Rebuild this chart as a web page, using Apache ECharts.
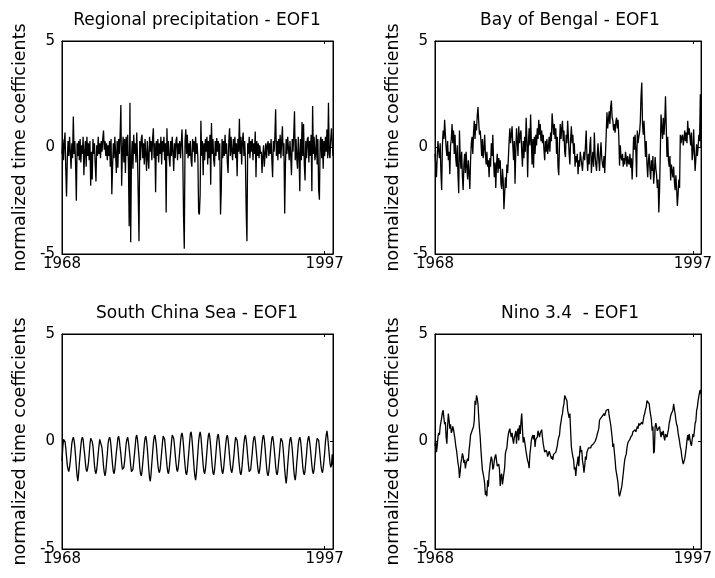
<!DOCTYPE html>
<html><head><meta charset="utf-8">
<script src="https://cdn.jsdelivr.net/npm/echarts@6/dist/echarts.min.js"></script>
<style>html,body{margin:0;padding:0;background:#fff}#c{width:715px;height:578px}</style>
</head><body><div id="c"></div>
<script>
// ---- data ----
const startYear = 1968;
const nYears = 30;
const tickYears = [1968, 1997];
const yTicks = [-5, 0, 5];
const yAxisTitle = 'normalized time coefficients';
const titles = ['Regional precipitation - EOF1', 'Bay of Bengal - EOF1', 'South China Sea - EOF1', 'Nino 3.4  - EOF1'];

const precip = [
-0.3,0.4,-0.6,0.2,0.7,-1.0,-2.3,-0.6,0.3,-0.4,0.5,-0.2,
-1.0,0.2,-0.5,1.45,-0.3,0.3,-0.8,-2.5,0.2,-0.4,0.3,-0.6,
0.4,-0.7,0.1,-0.3,0.5,-1.3,-0.2,0.3,-0.9,0.5,-0.4,0.2,
-0.6,0.3,-1.8,-0.2,-1.5,0.4,-0.3,0.2,-0.8,-1.6,0.1,-0.4,
0.5,-0.3,0.2,-0.5,0.3,-0.2,0.4,0.8,-0.1,0.3,-0.4,0.2,
-0.6,0.1,-0.4,0.3,-0.9,0.4,-2.2,-0.9,0.2,-0.5,0.5,-0.3,
-1.2,0.3,-0.95,0.4,-0.3,0.6,2.0,-1.8,-0.2,0.5,-0.7,0.4,
-1.2,0.5,-0.4,0.6,-0.8,-3.7,2.1,-4.45,-0.5,0.3,-1.0,0.6,
-0.3,0.2,-0.7,0.7,-0.4,-2.3,-4.4,0.3,-0.6,0.4,0.6,-0.5,
0.2,-0.8,0.4,-0.3,-1.1,0.3,-0.5,-1.0,0.5,-0.2,0.3,-0.6,
0.4,0.9,-0.5,0.2,-2.1,0.3,-0.4,0.4,-0.7,0.2,-0.3,0.5,
-0.8,0.3,-0.2,0.5,-0.6,0.2,-3.05,0.9,-0.4,0.3,-0.5,-0.9,
0.3,-0.4,0.5,-0.2,-1.1,0.2,-0.5,0.3,0.5,-0.6,0.2,-0.3,
0.3,-0.5,0.2,0.85,-0.4,-3.2,-4.75,0.3,0.85,-0.3,0.6,-0.5,
0.2,-0.4,0.3,-0.6,-0.9,0.4,-0.2,0.3,-0.7,0.5,-0.3,0.2,
-0.5,-3.05,-3.15,-2.2,1.25,-0.4,0.3,-1.3,0.2,-0.6,0.4,-0.2,
0.5,-0.8,0.3,-0.5,0.6,-1.75,1.15,-0.3,0.4,-0.6,-0.9,0.3,
-0.4,0.45,-0.2,0.3,-0.6,0.2,-3.15,-2.0,0.4,-0.5,0.3,-0.4,
0.6,-0.3,0.2,-0.7,-1.2,0.3,0.9,-0.4,0.5,-0.2,-0.6,0.4,
-0.3,0.5,-0.5,0.2,-1.35,0.4,-0.2,1.35,-0.3,0.5,-0.8,0.3,
0.7,-0.4,0.3,-0.6,-3.0,-4.4,0.2,-0.3,0.5,-0.5,0.3,-0.2,
0.4,-0.6,0.2,-0.3,0.75,-1.4,0.3,-0.4,0.2,-0.5,0.1,-0.3,
-0.2,-1.2,-0.4,0.1,-0.9,-0.3,0.2,-0.5,0.1,0.3,-0.4,0.2,
-0.3,0.4,-0.6,-1.4,0.3,-0.2,0.5,1.8,-0.4,0.3,-0.6,0.4,
-0.3,0.6,-0.5,0.3,1.0,-0.4,0.2,-3.1,-0.8,0.4,-0.3,0.5,
0.5,-0.6,0.3,-0.4,-1.3,0.4,-0.2,0.6,1.7,-0.6,0.4,-0.5,
-1.0,0.5,-0.3,-2.05,0.4,-0.6,1.2,-0.4,1.1,-0.8,-1.55,0.3,
-0.5,0.4,0.5,-0.7,0.3,-0.4,0.6,-2.05,1.95,-0.3,0.5,-0.6,
-0.3,0.6,-0.8,0.4,-2.0,-2.45,0.3,0.5,-0.5,0.4,-1.0,0.3,
-0.4,0.5,-0.2,0.85,-0.5,2.1,-0.3,-0.5,0.4,0.9,0.2,-0.4
];

const bengal = [
-0.3,-0.8,-1.4,-0.4,0.3,-0.2,-0.5,0.2,-1.2,-2.0,0.1,0.8,
0.4,1.3,0.6,0.0,-0.4,0.3,-0.6,-0.2,-1.25,0.1,0.4,1.1,
0.2,0.8,-0.3,0.6,-0.5,-0.9,0.1,-1.3,-2.15,0.8,-0.4,-1.0,
-0.2,-1.4,-2.0,-0.8,-0.3,-1.2,-0.2,-0.9,-1.5,-0.6,-1.2,-1.95,
-0.6,0.2,0.5,-0.3,0.7,1.25,0.4,1.1,0.8,1.5,1.9,1.2,
0.6,0.8,0.3,-0.4,0.4,-0.5,-0.1,0.6,-0.3,-0.8,-0.2,-0.9,
-0.6,-1.4,-0.5,-0.9,0.2,-0.4,0.6,-0.6,-1.4,-0.7,-1.9,-0.8,
-0.3,-1.2,-0.5,-1.0,-0.6,-1.7,-1.95,-1.0,-1.5,-2.9,-2.2,-1.4,
-1.9,-0.8,-1.2,-0.5,0.3,0.9,0.2,0.6,1.0,0.1,-0.6,0.3,
-1.7,-0.2,0.9,0.3,-0.4,1.0,0.2,0.6,0.8,-0.2,-0.9,0.3,
-0.5,0.5,-0.2,1.4,0.4,-1.4,0.2,0.9,0.1,1.55,0.3,-0.8,
0.4,-0.95,0.5,-0.3,0.6,0.1,0.9,0.4,1.3,0.6,1.1,0.3,
0.8,0.2,0.6,-0.1,-0.6,0.3,-0.2,0.4,-0.3,0.0,0.5,-0.2,
0.7,0.3,1.6,1.1,0.6,1.1,0.4,0.9,-0.3,0.5,-0.95,-1.3,
0.2,1.1,0.4,0.9,1.25,0.3,0.8,-0.2,-0.45,0.6,0.2,1.25,
0.5,-0.3,-0.8,0.4,1.0,0.2,0.6,-0.3,0.2,-0.9,-0.4,-0.7,
-0.3,-1.25,-0.6,-0.9,-0.2,-0.15,-0.8,-1.1,-0.5,-0.2,-0.6,0.1,
0.8,-0.4,-1.1,-0.3,-0.8,0.1,0.5,-1.2,-0.6,-0.2,-0.9,0.7,
-0.4,-0.8,-1.1,-0.3,0.2,-0.6,-1.1,-0.3,0.25,-0.5,-0.8,-0.95,
-0.4,-1.2,-1.15,0.6,1.65,0.9,1.3,1.7,1.1,1.9,2.2,1.4,
1.25,0.8,1.1,0.7,1.2,1.4,0.9,1.3,0.5,-0.85,0.1,-0.45,
-0.6,-0.3,-0.9,-0.5,-0.8,-0.2,-0.45,-0.9,-0.4,-0.7,-0.8,-0.3,
-0.95,-0.5,-1.5,-0.6,0.5,-0.1,0.6,-0.2,-1.4,0.8,0.2,0.5,
0.7,1.2,2.4,3.05,1.1,0.6,1.25,0.4,-0.45,0.3,-0.8,-1.4,
-0.6,-0.3,-1.0,-1.5,-0.6,-1.1,-0.4,-1.7,-1.2,-0.45,-1.0,-1.3,
-1.9,-1.5,-3.05,-2.0,-0.2,1.55,0.9,0.4,1.4,0.6,1.2,2.4,
1.0,-0.45,0.5,-0.6,-0.9,-0.4,-1.55,-0.8,-1.1,-1.4,-0.9,-1.6,
-2.0,-1.3,-1.9,-2.75,-2.2,-1.5,-1.9,0.6,0.2,0.5,0.6,0.1,
0.4,0.8,0.3,0.7,0.2,1.25,0.6,0.9,0.5,0.1,0.7,-0.6,
-0.2,0.85,-0.3,-1.1,-0.5,0.15,-0.4,0.0,0.6,0.3,2.5,0.0
];

const scs = [
-0.9,-0.3,0.1,0.15,0.0,-0.3,-0.7,-1.1,-1.3,-1.4,-1.2,-0.9,
-0.5,-0.1,0.1,0.2,0.05,-0.25,-0.7,-1.2,-1.6,-1.85,-1.5,-1.0,
-0.6,-0.2,0.1,0.2,0.1,-0.3,-0.6,-1.0,-1.3,-1.4,-1.25,-1.0,
-0.6,-0.15,0.15,0.2,0.0,-0.2,-0.65,-1.1,-1.4,-1.5,-1.3,-0.95,
-0.55,-0.2,0.1,0.15,0.05,-0.3,-0.7,-1.15,-1.45,-1.6,-1.4,-1.0,
-0.6,-0.1,0.1,0.2,0.1,-0.25,-0.7,-1.1,-1.4,-1.5,-1.3,-0.9,
-0.5,-0.2,0.15,0.25,0.05,-0.3,-0.6,-1.0,-1.3,-1.35,-1.2,-0.9,
-0.5,-0.1,0.1,0.2,0.0,-0.35,-0.7,-1.1,-1.4,-1.45,-1.3,-0.95,
-0.6,-0.2,0.2,0.3,0.1,-0.3,-0.7,-1.2,-1.5,-1.6,-1.4,-1.0,
-0.6,-0.15,0.15,0.25,0.05,-0.3,-0.8,-1.3,-1.7,-1.85,-1.5,-1.0,
-0.55,-0.1,0.2,0.3,0.1,-0.2,-0.65,-1.1,-1.35,-1.45,-1.3,-0.9,
-0.5,-0.1,0.25,0.3,0.1,-0.3,-0.7,-1.1,-1.4,-1.5,-1.3,-0.9,
-0.5,-0.05,0.3,0.35,0.15,-0.2,-0.6,-1.0,-1.3,-1.4,-1.2,-0.85,
-0.45,0.0,0.3,0.4,0.2,-0.2,-0.7,-1.1,-1.45,-1.55,-1.35,-0.9,
-0.5,-0.05,0.35,0.45,0.2,-0.25,-0.75,-1.25,-1.6,-1.8,-1.5,-1.0,
-0.5,0.0,0.3,0.45,0.25,-0.2,-0.65,-1.1,-1.4,-1.5,-1.3,-0.9,
-0.45,0.0,0.3,0.4,0.15,-0.25,-0.7,-1.15,-1.45,-1.55,-1.35,-0.95,
-0.5,-0.05,0.25,0.35,0.1,-0.3,-0.7,-1.1,-1.4,-1.5,-1.3,-0.9,
-0.5,-0.1,0.2,0.3,0.1,-0.25,-0.7,-1.1,-1.35,-1.45,-1.25,-0.9,
-0.55,-0.1,0.2,0.25,0.05,-0.3,-0.75,-1.15,-1.45,-1.55,-1.35,-0.95,
-0.5,-0.1,0.2,0.3,0.1,-0.25,-0.7,-1.1,-1.4,-1.45,-1.3,-0.9,
-0.55,-0.1,0.15,0.25,0.05,-0.3,-0.7,-1.1,-1.4,-1.5,-1.3,-0.9,
-0.5,-0.1,0.2,0.3,0.1,-0.3,-0.75,-1.2,-1.5,-1.6,-1.4,-1.0,
-0.55,-0.15,0.15,0.25,0.05,-0.3,-0.7,-1.15,-1.45,-1.55,-1.35,-0.95,
-0.6,-0.15,0.15,0.2,0.0,-0.35,-0.8,-1.3,-1.7,-1.95,-1.6,-1.1,
-0.65,-0.2,0.1,0.2,0.0,-0.35,-0.8,-1.3,-1.65,-1.8,-1.5,-1.0,
-0.6,-0.15,0.1,0.2,0.05,-0.3,-0.75,-1.2,-1.45,-1.55,-1.35,-0.95,
-0.55,-0.1,0.15,0.25,0.0,-0.3,-0.7,-1.1,-1.4,-1.5,-1.3,-0.9,
-0.55,-0.1,0.15,0.2,0.05,-0.3,-0.7,-1.1,-1.35,-1.45,-1.25,-0.9,
-0.5,0.0,0.3,0.5,0.2,-0.2,-0.6,-1.0,-1.2,-1.1,-0.6,-1.1
];

const nino = [
-0.2,0.05,-0.5,-0.2,0.2,0.4,0.3,0.7,0.9,1.1,1.35,1.45,
1.1,0.8,0.9,0.2,-0.1,0.7,1.3,1.0,0.6,0.8,0.4,0.5,
0.7,0.55,0.5,0.1,-0.2,-0.4,-0.7,-1.0,-1.2,-1.7,-1.4,-1.0,
-0.8,-0.55,-0.7,-1.0,-0.85,-1.25,-1.0,-0.9,-0.8,-0.9,-0.4,-0.1,
0.3,0.35,0.5,0.45,0.7,1.0,1.9,1.7,2.15,2.0,1.75,1.14,
0.6,0.2,-0.4,-0.9,-1.33,-1.5,-1.7,-1.95,-2.49,-2.3,-2.55,-1.8,
-2.1,-1.5,-1.2,-0.9,-0.7,-0.85,-1.3,-1.2,-0.9,-0.7,-0.6,-0.55,
-1.15,-1.2,-1.05,-1.3,-2.07,-1.6,-1.5,-2.0,-2.07,-2.0,-1.2,-0.55,
-0.4,-0.3,0.1,0.35,0.5,0.6,0.35,0.2,0.4,0.1,-0.1,0.2,
0.3,0.5,-0.1,0.4,0.6,0.05,0.75,0.35,0.9,1.3,0.6,-0.05,
0.2,0.0,-0.25,-0.5,-0.7,-0.9,-1.0,-1.24,-0.6,-0.3,0.05,0.2,
0.3,0.1,0.3,-0.25,0.1,0.05,0.2,0.5,0.35,0.2,0.4,0.35,
0.55,0.2,-0.1,-0.3,-0.5,-0.55,-0.4,-0.5,-0.7,-0.6,-0.45,-0.55,
-0.55,-0.8,-0.7,-0.85,-0.6,-0.55,-0.6,-0.5,-0.55,-0.2,0.05,0.2,
0.3,0.7,0.9,1.15,1.3,1.6,1.75,2.14,2.15,2.2,1.9,1.45,
1.45,1.1,1.3,0.5,-0.25,-0.5,-0.7,-0.85,-1.3,-1.2,-1.6,-1.15,
-1.0,-0.7,-1.15,-0.6,-0.2,-0.5,-0.4,-0.9,-1.1,-1.45,-1.15,-0.7,
-0.85,-0.5,-0.4,-0.3,-0.35,-0.25,-0.3,-0.2,-0.25,-0.15,-0.1,-0.1,
0.0,0.05,0.2,0.35,0.4,0.6,1.0,1.0,1.03,1.15,1.1,1.2,
1.3,1.2,1.23,1.45,1.4,1.5,1.5,1.2,1.0,0.8,0.5,0.2,
-0.25,-0.1,-0.5,-0.85,-1.3,-1.33,-1.7,-1.95,-2.4,-2.55,-2.5,-2.5,
-2.1,-1.8,-1.5,-1.15,-0.85,-0.7,-0.6,-0.3,-0.1,0.0,-0.05,0.1,
0.2,0.25,0.3,0.45,0.4,0.5,0.55,0.45,0.4,0.7,0.6,0.85,
0.75,0.8,0.75,0.9,0.8,1.0,1.2,1.3,1.5,1.6,1.9,1.9,
1.9,1.75,1.45,1.45,1.0,0.5,0.7,-0.55,-0.45,0.7,0.85,0.85,
0.5,0.55,0.55,0.7,0.4,0.2,0.45,0.3,0.5,0.2,0.05,0.35,
0.3,0.2,0.4,0.55,0.85,1.0,1.2,1.3,1.3,1.45,1.75,1.5,
1.3,1.0,0.8,0.7,0.4,0.2,0.0,-0.25,-0.4,-0.7,-0.9,-1.05,
-1.1,-0.8,-0.55,-0.3,0.05,0.3,0.05,0.35,0.4,-0.1,-0.2,-0.25,
0.35,0.2,0.5,0.85,0.95,1.45,1.6,1.9,2.1,2.3,2.4,2.2
];

// ---- chart ----
const months = [];
for (let y = 0; y < nYears; y++) for (let m = 1; m <= 12; m++) months.push((startYear + y) + '-' + m);
const tickIdx = tickYears.map(y => (y - startYear) * 12);
const FONT = 'DejaVu Sans';
const seriesData = [precip, bengal, scs, nino];
const boxes = [
  {left: 62, top: 41, width: 271, height: 213, tx: 197},
  {left: 435, top: 41, width: 270, height: 213, tx: 570},
  {left: 62, top: 334, width: 271, height: 215, tx: 197},
  {left: 435, top: 334, width: 270, height: 215, tx: 570}
];
const grid = [], xAxis = [], yAxis = [], series = [], title = [];
boxes.forEach((b, i) => {
  grid.push({left: b.left, top: b.top, width: b.width, height: b.height, show: true,
    borderColor: '#000', borderWidth: 1, backgroundColor: '#fff', containLabel: false});
  title.push({text: titles[i], left: b.tx, top: b.top - 29, textAlign: 'center', padding: 0,
    textStyle: {fontFamily: FONT, fontSize: 17, fontWeight: 'normal', color: '#000'}});
  const xBase = {gridIndex: i, type: 'category', data: months, boundaryGap: false,
    axisLine: {show: true, onZero: false, lineStyle: {color: '#000', width: 1}},
    axisTick: {show: true, inside: true, length: 3, interval: (idx) => tickIdx.includes(idx), lineStyle: {color: '#000'}},
    splitLine: {show: false}};
  xAxis.push(Object.assign({}, xBase, {position: 'bottom',
    axisLabel: {show: true, interval: (idx) => tickIdx.includes(idx), formatter: v => v.split('-')[0],
      color: '#000', fontFamily: FONT, fontSize: 15, margin: 3}}));
  xAxis.push(Object.assign({}, xBase, {position: 'top', axisLabel: {show: false}}));
  const yBase = {gridIndex: i, type: 'value', min: yTicks[0], max: yTicks[2], interval: 5,
    axisLine: {show: true, onZero: false, lineStyle: {color: '#000', width: 1}},
    axisTick: {show: true, inside: true, length: 3, lineStyle: {color: '#000'}},
    splitLine: {show: false}};
  yAxis.push(Object.assign({}, yBase, {position: 'left',
    axisLabel: {show: true, color: '#000', fontFamily: FONT, fontSize: 15, margin: 7},
    name: yAxisTitle, nameLocation: 'middle', nameGap: 33, nameRotate: 90,
    nameTextStyle: {fontFamily: FONT, fontSize: 17.5, color: '#000'}}));
  yAxis.push(Object.assign({}, yBase, {position: 'right', axisLabel: {show: false}}));
  series.push({type: 'line', xAxisIndex: 2 * i, yAxisIndex: 2 * i, data: seriesData[i],
    showSymbol: false, symbol: 'none', silent: true,
    lineStyle: {color: '#000', width: 1.3}});
});
const chart = echarts.init(document.getElementById('c'), null, {renderer: 'canvas'});
chart.setOption({backgroundColor: '#fff', animation: false, title, grid, xAxis, yAxis, series});
</script></body></html>
